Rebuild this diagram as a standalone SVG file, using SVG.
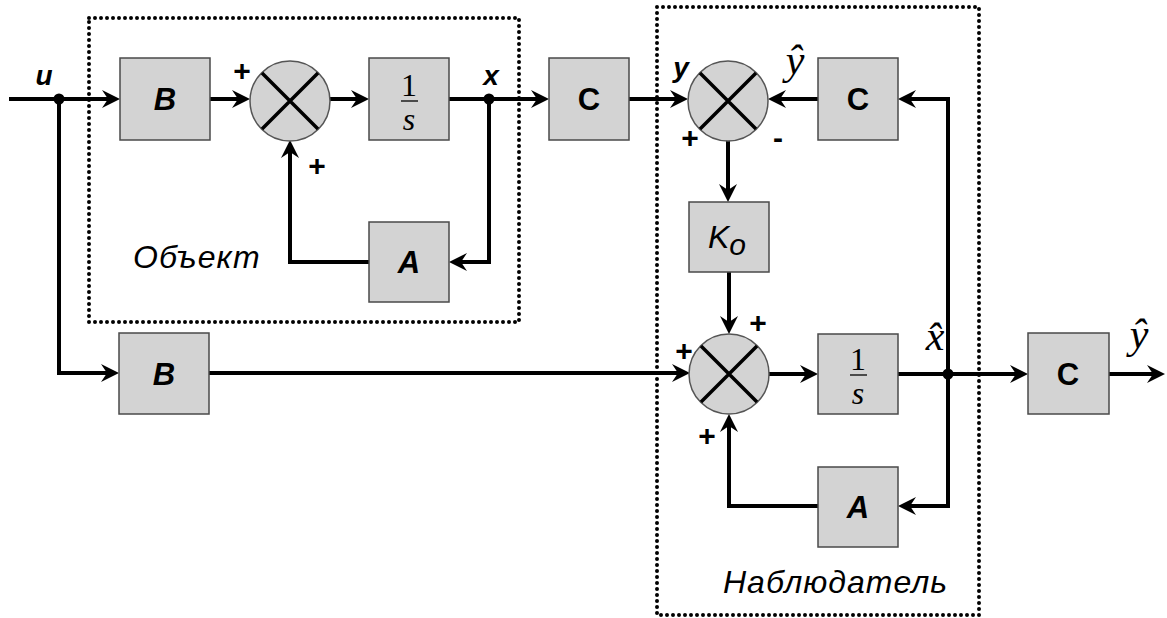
<svg xmlns="http://www.w3.org/2000/svg" width="1167" height="618" viewBox="0 0 1167 618">
<style>
.box{fill:#d3d3d3;stroke:#4a4a4a;stroke-width:1.5}
.sum{fill:#d3d3d3;stroke:#555;stroke-width:1.5}
.xl{stroke:#000;stroke-width:3.5}
.ln{fill:none;stroke:#000;stroke-width:4;stroke-linejoin:miter}
.ar{marker-end:url(#arr)}
.dot{fill:none;stroke:#000;stroke-width:4;stroke-linecap:round;stroke-dasharray:0 6}
.lbl{font-family:"Liberation Sans",Arial,sans-serif;font-weight:bold;font-style:italic;font-size:31px;text-anchor:middle}
.lc{font-family:"Liberation Sans",Arial,sans-serif;font-weight:bold;font-size:31px;text-anchor:middle}
.ko{font-family:"Liberation Sans",Arial,sans-serif;font-weight:normal;font-style:italic;font-size:32px;text-anchor:middle}
.sig{font-family:"Liberation Sans",Arial,sans-serif;font-weight:bold;font-style:italic;font-size:28px;text-anchor:middle}
.pm{font-family:"Liberation Sans",Arial,sans-serif;font-weight:bold;font-size:30px;text-anchor:middle}
.tm{font-family:"Liberation Serif","Times New Roman",serif;font-size:32px;text-anchor:middle}
.tmi{font-family:"Liberation Serif","Times New Roman",serif;font-style:italic;font-size:42px;text-anchor:middle}
.cap{font-family:"Liberation Sans",Arial,sans-serif;font-style:italic;font-size:32px;letter-spacing:1px}
</style>
<defs>
<marker id="arr" markerUnits="userSpaceOnUse" markerWidth="20" markerHeight="20" refX="10" refY="9" orient="auto">
<path d="M0,0 L18,9 L0,18 L6,9 Z" fill="#000"/>
</marker>
</defs>
<rect width="1167" height="618" fill="#fff"/>

<g id="object-frame">
<rect class="dot" x="89" y="18" width="430" height="304"/>
<text class="cap" x="133" y="268">Объект</text>
</g>
<g id="observer-frame">
<rect class="dot" x="657" y="7" width="322" height="608"/>
<text class="cap" x="723" y="593">Наблюдатель</text>
</g>

<g id="connectors">
<path class="ln ar" d="M9,99 H112"/>
<path class="ln ar" d="M210,99 H242"/>
<path class="ln ar" d="M330,99 H361"/>
<path class="ln ar" d="M449,99 H541"/>
<path class="ln ar" d="M629,99 H680"/>
<path class="ln ar" d="M489,99 V262 H457"/>
<path class="ln ar" d="M369,262 H290 V148"/>
<path class="ln ar" d="M59,99 V373 H111"/>
<path class="ln ar" d="M209,373 H682"/>
<path class="ln ar" d="M728,140 V194"/>
<path class="ln ar" d="M729,272 V326"/>
<path class="ln ar" d="M769,374 H810"/>
<path class="ln ar" d="M898,374 H1020"/>
<path class="ln ar" d="M1109,374 H1157"/>
<path class="ln ar" d="M948,374 V99 H906"/>
<path class="ln ar" d="M948,374 V506 H906"/>
<path class="ln ar" d="M818,99 H776"/>
<path class="ln ar" d="M818,506 H729 V422"/>
<circle cx="59" cy="99" r="5.5"/>
<circle cx="489" cy="99" r="5.5"/>
<circle cx="948" cy="374" r="5.5"/>
</g>

<g id="B1"><rect class="box" x="120" y="58" width="90" height="82"/><text class="lbl" x="165" y="110">B</text></g>
<g id="S1"><circle class="sum" cx="290" cy="101" r="40"/><path class="xl" d="M262,73 L318,129 M318,73 L262,129"/></g>
<g id="I1"><rect class="box" x="369" y="58" width="80" height="82"/><text class="tm" x="409" y="96">1</text><path d="M401,101 H418" stroke="#000" stroke-width="1.3"/><text class="tm" x="409" y="130" font-style="italic">s</text></g>
<g id="A1"><rect class="box" x="369" y="222" width="80" height="80"/><text class="lbl" x="409" y="273">A</text></g>
<g id="C1"><rect class="box" x="549" y="58" width="80" height="82"/><text class="lc" x="589" y="110">C</text></g>
<g id="S2"><circle class="sum" cx="728" cy="101" r="40"/><path class="xl" d="M700,73 L756,129 M756,73 L700,129"/></g>
<g id="C2"><rect class="box" x="818" y="58" width="80" height="82"/><text class="lc" x="858" y="110">C</text></g>
<g id="K"><rect class="box" x="689" y="202" width="80" height="70"/><text class="ko" x="727" y="248">K<tspan font-size="30" dy="7">o</tspan></text></g>
<g id="S3"><circle class="sum" cx="729" cy="374" r="40"/><path class="xl" d="M701,346 L757,402 M757,346 L701,402"/></g>
<g id="I2"><rect class="box" x="818" y="334" width="80" height="80"/><text class="tm" x="858" y="370">1</text><path d="M850,375 H867" stroke="#000" stroke-width="1.3"/><text class="tm" x="858" y="404" font-style="italic">s</text></g>
<g id="A2"><rect class="box" x="818" y="467" width="80" height="80"/><text class="lbl" x="858" y="518">A</text></g>
<g id="B2"><rect class="box" x="119" y="333" width="90" height="81"/><text class="lbl" x="164" y="385">B</text></g>
<g id="C3"><rect class="box" x="1028" y="333" width="81" height="81"/><text class="lc" x="1068" y="385">C</text></g>

<g id="labels">
<text class="sig" x="44" y="85">u</text>
<text class="sig" x="491" y="85">x</text>
<text class="sig" x="681" y="77">y</text>
<text class="tmi" x="795" y="74">ŷ</text>
<text class="tmi" x="935" y="350">x̂</text>
<text class="tmi" x="1139" y="348">ŷ</text>
<text class="pm" x="242" y="81">+</text>
<text class="pm" x="317" y="176">+</text>
<text class="pm" x="690" y="148">+</text>
<text class="pm" x="778" y="148">-</text>
<text class="pm" x="758" y="333">+</text>
<text class="pm" x="684" y="361">+</text>
<text class="pm" x="707" y="446">+</text>
</g>
</svg>
